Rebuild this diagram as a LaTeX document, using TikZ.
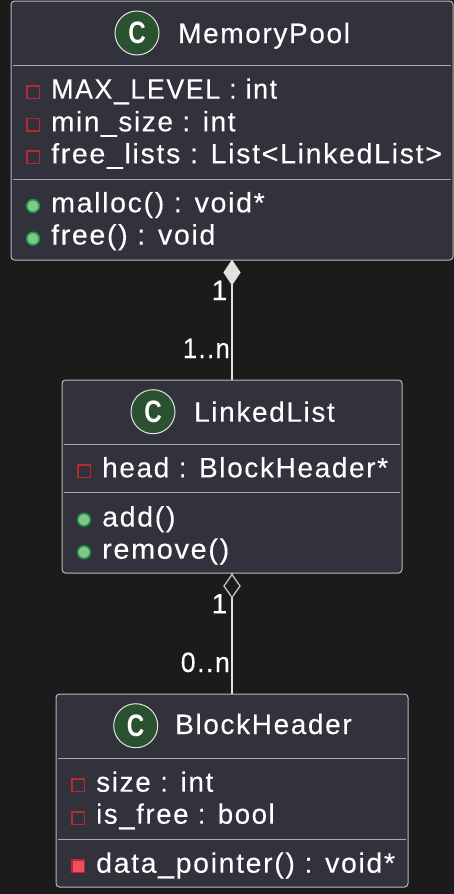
\documentclass[tikz,border=0pt]{standalone}
\usepackage{fontspec}
\usetikzlibrary{shapes.geometric}
\setmainfont{Liberation Sans}[LetterSpace=5.8,FakeBold=0.2]
\newfontfamily\spotfont{Liberation Sans Bold}
\definecolor{bgc}{HTML}{1B1B1B}
\definecolor{boxc}{HTML}{31323B}
\definecolor{linec}{HTML}{A8A8A8}
\definecolor{connc}{HTML}{E2E2E2}
\definecolor{spotc}{HTML}{2A5230}
\definecolor{privc}{HTML}{B8282F}
\definecolor{privf}{HTML}{F24D5C}
\definecolor{pubc}{HTML}{1A9850}
\definecolor{pubf}{HTML}{84C784}
\newcommand{\spotletter}{\scalebox{0.78}[1]{\spotfont\fontsize{31}{31}\selectfont C}}
\newcommand{\hsq}[2]{\scalebox{#1}[1]{#2}}
\tikzset{
  x=1pt,y=-1pt,
  classbox/.style={draw=linec!80!white,fill=boxc,line width=1pt,rounded corners=3.5pt},
  sepline/.style={draw=linec,line width=1pt},
  spot/.style={circle,draw=connc,fill=spotc,line width=1pt,minimum size=44pt,inner sep=0pt,text=white},
  titletxt/.style={anchor=base west,inner sep=0pt,text=white,font=\fontsize{28}{28}\selectfont},
  membertxt/.style={anchor=base west,inner sep=0pt,text=white,font=\fontsize{28}{28}\selectfont},
  mult/.style={anchor=base east,inner sep=0pt,text=white,font=\fontsize{28}{28}\selectfont},
  privsq/.style={draw=privc,line width=1.6pt,minimum size=12.6pt,inner sep=0pt,outer sep=0pt},
  privfill/.style={draw=privc,fill=privf,line width=1.6pt,minimum size=12.6pt,inner sep=0pt,outer sep=0pt},
  pubdot/.style={circle,draw=pubc,fill=pubf,line width=1.6pt,minimum size=12.6pt,inner sep=0pt,outer sep=0pt},
  conn/.style={draw=connc,line width=1.3pt},
  comp/.style={diamond,draw=connc,fill=connc,line width=1pt,minimum width=16pt,minimum height=24pt,inner sep=0pt,outer sep=0pt,aspect=0.65},
  aggr/.style={diamond,draw=connc!85!black,fill=bgc,line width=1.3pt,minimum width=16pt,minimum height=23pt,inner sep=0pt,outer sep=0pt,aspect=0.65},
}
\begin{document}
\begin{tikzpicture}
\useasboundingbox[fill=bgc] (0,0) rectangle (454,894);
\coordinate (c1t) at (232,260);
\coordinate (c1b) at (232,380);
\coordinate (c2t) at (232,573);
\coordinate (c2b) at (232,694);
\draw[conn] (c1t) -- (c1b);
\draw[conn] (c2t) -- (c2b);
\node[comp] (dia1) at (232,272.5) {};
\node[aggr] (dia2) at (232,586) {};
% MemoryPool
\draw[classbox] (11,1) rectangle (453,260);
\draw[sepline] (13,65) -- (451,65);
\draw[sepline] (13,179) -- (451,179);
\node[spot] (mpc) at (137,33) {\spotletter};
\node[titletxt] (mpt) at (178,43) {MemoryPool};
\node[privsq] (m1s) at (33,92.3) {};
\node[membertxt] (m1) at (51,98.7) {\hsq{0.958}{MAX\_LEVEL : int}};
\node[privsq] (m2s) at (33,124.7) {};
\node[membertxt] (m2) at (51,131.3) {min\_size : int};
\node[privsq] (m3s) at (33,157.3) {};
\node[membertxt] (m3) at (51,163.3) {\hsq{1.02}{free\_lists : List<LinkedList>}};
\node[pubdot] (m4s) at (33,206) {};
\node[membertxt] (m4) at (51,212.3) {\hsq{1.02}{malloc() : void*}};
\node[pubdot] (m5s) at (33,238.7) {};
\node[membertxt] (m5) at (51,244.5) {\hsq{1.02}{free() : void}};
% LinkedList
\draw[classbox] (62,380) rectangle (402,573);
\draw[sepline] (64,444) -- (400,444);
\draw[sepline] (64,492) -- (400,492);
\node[spot] (llc) at (153,411.7) {\spotletter};
\node[titletxt] (llt) at (194,421.7) {LinkedList};
\node[privsq] (l1s) at (84,471.3) {};
\node[membertxt] (l1) at (102,477.3) {head : BlockHeader*};
\node[pubdot] (l2s) at (84,519.7) {};
\node[membertxt] (l2) at (102,526.5) {\hsq{1.02}{add()}};
\node[pubdot] (l3s) at (84,552.3) {};
\node[membertxt] (l3) at (102,558.7) {\hsq{1.03}{remove()}};
% BlockHeader
\draw[classbox] (56,694) rectangle (408,887);
\draw[sepline] (58,758) -- (406,758);
\draw[sepline] (58,839) -- (406,839);
\node[spot] (bhc) at (135.7,725.7) {\spotletter};
\node[titletxt] (bht) at (175,734) {BlockHeader};
\node[privsq] (b1s) at (78,785) {};
\node[membertxt] (b1) at (96,791.7) {size : int};
\node[privsq] (b2s) at (78,818) {};
\node[membertxt] (b2) at (96,823.7) {\hsq{0.985}{is\_free : bool}};
\node[privfill] (b3s) at (78,866) {};
\node[membertxt] (b3) at (96,872.7) {\hsq{1.017}{data\_pointer() : void*}};
% multiplicities
\node[mult] (k1) at (227.5,300) {1};
\node[mult] (k2) at (230,358) {\hsq{0.91}{1..n}};
\node[mult] (k3) at (227.5,613.3) {1};
\node[mult] (k4) at (230,672) {\hsq{0.95}{0..n}};
\end{tikzpicture}
\end{document}
